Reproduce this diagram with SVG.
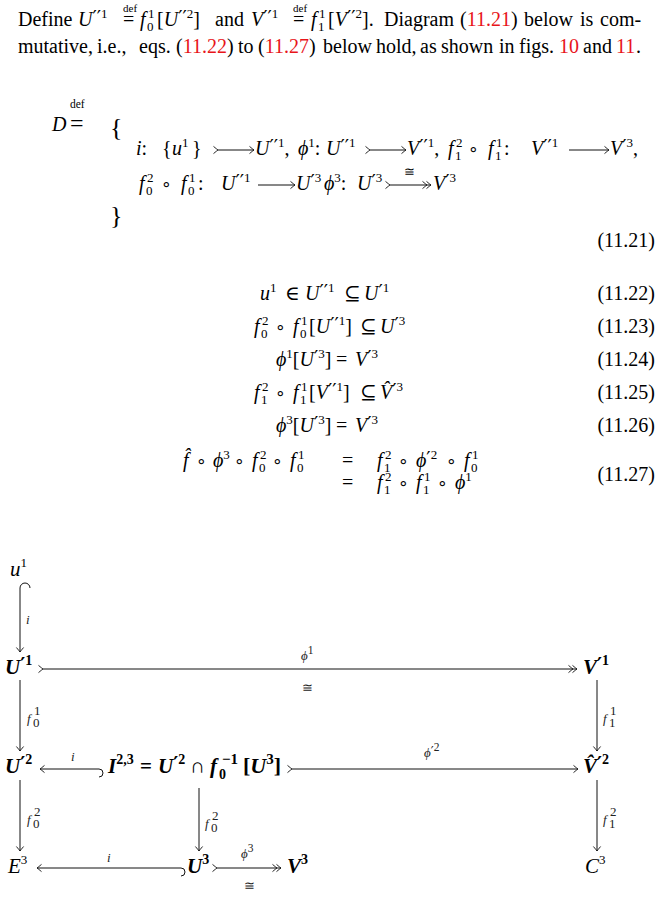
<svg xmlns="http://www.w3.org/2000/svg" width="662" height="897" viewBox="0 0 662 897">
<style>
text{font-family:"Liberation Serif","DejaVu Serif",serif;font-size:20px;fill:#000}
.m{font-style:italic}
.b{font-weight:bold;font-style:italic;font-size:21px}
.s{font-size:13px;font-style:normal}
.ss{font-size:11.5px;font-style:normal}
.d{font-size:11px}
.p{font-family:"DejaVu Sans",sans-serif;font-style:normal;font-size:19px}
.pb{font-family:"DejaVu Sans",sans-serif;font-style:normal;font-weight:bold;font-size:19px}
.o{font-family:"DejaVu Sans",sans-serif;font-size:17px}
.r{fill:#e8141a}
.l{font-size:13px;fill:#222}
.ln{stroke:#111;stroke-width:1;fill:none}
</style>
<defs>
<marker id="to" markerUnits="userSpaceOnUse" orient="auto" overflow="visible" markerWidth="1" markerHeight="1">
<path d="M-4.5,-3.6 Q-1.2,-0.8 0,0 Q-1.2,0.8 -4.5,3.6" fill="none" stroke="#111" stroke-width="0.9"/>
</marker>
<marker id="two" markerUnits="userSpaceOnUse" orient="auto" overflow="visible" markerWidth="1" markerHeight="1">
<path d="M-4.5,-3.6 Q-1.2,-0.8 0,0 Q-1.2,0.8 -4.5,3.6 M-8.5,-3.6 Q-5.2,-0.8 -4,0 Q-5.2,0.8 -8.5,3.6" fill="none" stroke="#111" stroke-width="0.9"/>
</marker>
<marker id="tail" markerUnits="userSpaceOnUse" orient="auto" overflow="visible" markerWidth="1" markerHeight="1">
<path d="M-4.5,-3.6 Q-1.2,-0.8 0,0 Q-1.2,0.8 -4.5,3.6" fill="none" stroke="#111" stroke-width="0.9"/>
</marker>
</defs>

<g id="paragraph">
<text x="18" y="26">Define</text>
<text class="m" x="78" y="26">U<tspan class="p" dy="-2">′′</tspan><tspan class="s" dy="-6">1</tspan></text>
<text class="d" x="123" y="12">def</text>
<text x="123" y="26">=</text>
<text class="m" x="140" y="26">f</text><text class="s" x="148" y="18">1</text><text class="s" x="147" y="31">0</text>
<text x="157" y="26">[<tspan class="m">U</tspan><tspan class="p" dy="-2">′′</tspan><tspan class="s" dy="-6">2</tspan><tspan dy="8">]</tspan></text>
<text x="215" y="26">and</text>
<text class="m" x="251" y="26">V<tspan class="p" dy="-2">′′</tspan><tspan class="s" dy="-6">1</tspan></text>
<text class="d" x="293" y="12">def</text>
<text x="293" y="26">=</text>
<text class="m" x="311" y="26">f</text><text class="s" x="319" y="18">1</text><text class="s" x="318" y="31">1</text>
<text x="328" y="26">[<tspan class="m">V</tspan><tspan class="p" dy="-2">′′</tspan><tspan class="s" dy="-6">2</tspan><tspan dy="8">].</tspan></text>
<text x="384" y="26">Diagram</text>
<text x="460" y="26">(<tspan class="r">11.21</tspan>)</text>
<text x="524" y="26">below</text>
<text x="580" y="26">is</text>
<text x="600" y="26">com-</text>

<text x="18" y="53">mutative,</text>
<text x="97" y="53">i.e.,</text>
<text x="139" y="53">eqs.</text>
<text x="176" y="53">(<tspan class="r">11.22</tspan>)</text>
<text x="238" y="53">to</text>
<text x="258" y="53">(<tspan class="r">11.27</tspan>)</text>
<text x="323" y="53">below</text>
<text x="376" y="53">hold,</text>
<text x="420" y="53">as</text>
<text x="441" y="53">shown</text>
<text x="499" y="53">in</text>
<text x="519" y="53">figs.</text>
<text class="r" x="559" y="53">10</text>
<text x="583" y="53">and</text>
<text class="r" x="616" y="53">11</text>
<text x="636" y="53">.</text>
</g>

<g id="definition">
<text class="m" x="52" y="131">D</text>
<text class="ss" x="70" y="108">def</text>
<text x="70" y="131" style="font-size:24px">=</text>
<text x="110" y="136" style="font-size:26px">{</text>
<text x="110" y="224" style="font-size:26px">}</text>

<text x="136" y="155"><tspan class="m">i</tspan>:</text>
<text x="162" y="155">{</text><text class="m" x="172" y="155">u<tspan class="s" dy="-8">1</tspan></text><text x="192" y="155">}</text>
<text class="m" x="255" y="155">U<tspan class="p" dy="-2">′′</tspan><tspan class="s" dy="-6">1</tspan><tspan dy="8" style="font-style:normal">,</tspan></text>
<text class="m" x="298" y="155">ϕ<tspan class="s" dy="-8">1</tspan><tspan dy="8" style="font-style:normal">:</tspan></text>
<text class="m" x="326" y="155">U<tspan class="p" dy="-2">′′</tspan><tspan class="s" dy="-6">1</tspan></text>
<text class="m" x="407" y="155">V<tspan class="p" dy="-2">′′</tspan><tspan class="s" dy="-6">1</tspan><tspan dy="8" style="font-style:normal">,</tspan></text>
<text class="m" x="448" y="155">f</text><text class="s" x="456" y="147">2</text><text class="s" x="455" y="160">1</text>
<text class="o" x="468" y="155">∘</text>
<text class="m" x="488" y="155">f</text><text class="s" x="496" y="147">1</text><text class="s" x="495" y="160">1</text>
<text x="504" y="155">:</text>
<text class="m" x="531" y="155">V<tspan class="p" dy="-2">′′</tspan><tspan class="s" dy="-6">1</tspan></text>
<text class="m" x="610" y="155">V<tspan class="p" dy="-2">′</tspan><tspan class="s" dy="-6">3</tspan><tspan dy="8" style="font-style:normal">,</tspan></text>

<text class="m" x="139" y="190">f</text><text class="s" x="147" y="182">2</text><text class="s" x="146" y="195">0</text>
<text class="o" x="161" y="190">∘</text>
<text class="m" x="181" y="190">f</text><text class="s" x="189" y="182">1</text><text class="s" x="188" y="195">0</text>
<text x="198" y="190">:</text>
<text class="m" x="221" y="190">U<tspan class="p" dy="-2">′′</tspan><tspan class="s" dy="-6">1</tspan></text>
<text class="m" x="296" y="190">U<tspan class="p" dy="-2">′</tspan><tspan class="s" dy="-6">3</tspan></text>
<text class="m" x="324" y="190">ϕ<tspan class="s" dy="-8">3</tspan><tspan dy="8" style="font-style:normal">:</tspan></text>
<text class="m" x="357" y="190">U<tspan class="p" dy="-2">′</tspan><tspan class="s" dy="-6">3</tspan></text>
<text class="s" x="404" y="176">≅</text>
<text class="m" x="433" y="190">V<tspan class="p" dy="-2">′</tspan><tspan class="s" dy="-6">3</tspan></text>

<text x="655" y="247" text-anchor="end">(11.21)</text>

<path class="ln" d="M218,150 H254" marker-start="url(#tail)" marker-end="url(#to)"/>
<path class="ln" d="M370,150 H406" marker-start="url(#tail)" marker-end="url(#to)"/>
<path class="ln" d="M569,150 H609" marker-end="url(#to)"/>
<path class="ln" d="M258,185 H295" marker-end="url(#to)"/>
<path class="ln" d="M390,185 H431" marker-start="url(#tail)" marker-end="url(#two)"/>
</g>

<g id="equations">
<text class="m" x="260" y="300">u<tspan class="s" dy="-8">1</tspan></text>
<text x="285" y="300">∈</text>
<text class="m" x="305" y="300">U<tspan class="p" dy="-2">′′</tspan><tspan class="s" dy="-6">1</tspan></text>
<text x="344" y="300">⊆</text>
<text class="m" x="364" y="300">U<tspan class="p" dy="-2">′</tspan><tspan class="s" dy="-6">1</tspan></text>
<text x="655" y="300" text-anchor="end">(11.22)</text>

<text class="m" x="254" y="333">f</text><text class="s" x="262" y="325">2</text><text class="s" x="261" y="338">0</text>
<text class="o" x="275" y="333">∘</text>
<text class="m" x="293" y="333">f</text><text class="s" x="301" y="325">1</text><text class="s" x="300" y="338">0</text>
<text x="309" y="333">[<tspan class="m">U</tspan><tspan class="p" dy="-2">′′</tspan><tspan class="s" dy="-6">1</tspan><tspan dy="8">]</tspan></text>
<text x="360" y="333">⊆</text>
<text class="m" x="380" y="333">U<tspan class="p" dy="-2">′</tspan><tspan class="s" dy="-6">3</tspan></text>
<text x="655" y="333" text-anchor="end">(11.23)</text>

<text class="m" x="276" y="366">ϕ<tspan class="s" dy="-8">1</tspan><tspan dy="8" style="font-style:normal">[</tspan>U<tspan class="p" dy="-2">′</tspan><tspan class="s" dy="-6">3</tspan><tspan dy="8" style="font-style:normal">]</tspan></text>
<text x="336" y="366">=</text>
<text class="m" x="355" y="366">V<tspan class="p" dy="-2">′</tspan><tspan class="s" dy="-6">3</tspan></text>
<text x="655" y="366" text-anchor="end">(11.24)</text>

<text class="m" x="254" y="399">f</text><text class="s" x="262" y="391">2</text><text class="s" x="261" y="404">1</text>
<text class="o" x="275" y="399">∘</text>
<text class="m" x="293" y="399">f</text><text class="s" x="301" y="391">1</text><text class="s" x="300" y="404">1</text>
<text x="309" y="399">[<tspan class="m">V</tspan><tspan class="p" dy="-2">′′</tspan><tspan class="s" dy="-6">1</tspan><tspan dy="8">]</tspan></text>
<text x="360" y="399">⊆</text>
<text class="m" x="380" y="399">V̂<tspan class="p" dy="-2">′</tspan><tspan class="s" dy="-6">3</tspan></text>
<text x="655" y="399" text-anchor="end">(11.25)</text>

<text class="m" x="276" y="432">ϕ<tspan class="s" dy="-8">3</tspan><tspan dy="8" style="font-style:normal">[</tspan>U<tspan class="p" dy="-2">′</tspan><tspan class="s" dy="-6">3</tspan><tspan dy="8" style="font-style:normal">]</tspan></text>
<text x="336" y="432">=</text>
<text class="m" x="355" y="432">V<tspan class="p" dy="-2">′</tspan><tspan class="s" dy="-6">3</tspan></text>
<text x="655" y="432" text-anchor="end">(11.26)</text>

<text class="m" x="183" y="467">f̂</text>
<text class="o" x="196" y="467">∘</text>
<text class="m" x="213" y="467">ϕ<tspan class="s" dy="-8">3</tspan></text>
<text class="o" x="234" y="467">∘</text>
<text class="m" x="252" y="467">f</text><text class="s" x="260" y="459">2</text><text class="s" x="259" y="472">0</text>
<text class="o" x="272" y="467">∘</text>
<text class="m" x="290" y="467">f</text><text class="s" x="298" y="459">1</text><text class="s" x="297" y="472">0</text>
<text x="342" y="467">=</text>
<text class="m" x="377" y="467">f</text><text class="s" x="385" y="459">2</text><text class="s" x="384" y="472">1</text>
<text class="o" x="398" y="467">∘</text>
<text class="m" x="416" y="467">ϕ<tspan class="p" dy="-2">′</tspan><tspan class="s" dy="-6">2</tspan></text>
<text class="o" x="446" y="467">∘</text>
<text class="m" x="464" y="467">f</text><text class="s" x="472" y="459">1</text><text class="s" x="471" y="472">0</text>

<text x="342" y="489">=</text>
<text class="m" x="377" y="489">f</text><text class="s" x="385" y="481">2</text><text class="s" x="384" y="494">1</text>
<text class="o" x="398" y="489">∘</text>
<text class="m" x="416" y="489">f</text><text class="s" x="424" y="481">1</text><text class="s" x="423" y="494">1</text>
<text class="o" x="437" y="489">∘</text>
<text class="m" x="455" y="489">ϕ<tspan class="s" dy="-8">1</tspan></text>
<text x="655" y="481" text-anchor="end">(11.27)</text>
</g>

<g id="connectors">
<path class="ln" d="M30,588 A5,5 0 0 0 20,588 V652" marker-end="url(#to)"/>
<path class="ln" d="M43,669 H577" marker-start="url(#tail)" marker-end="url(#two)"/>
<path class="ln" d="M20,680 V751" marker-end="url(#to)"/>
<path class="ln" d="M597,680 V751" marker-end="url(#to)"/>
<path class="ln" d="M99,777 A4,4 0 0 0 99,769 H40" marker-end="url(#to)"/>
<path class="ln" d="M292,769 H578" marker-start="url(#tail)" marker-end="url(#to)"/>
<path class="ln" d="M20,780 V851" marker-end="url(#to)"/>
<path class="ln" d="M199,788 V851" marker-end="url(#to)"/>
<path class="ln" d="M597,780 V851" marker-end="url(#to)"/>
<path class="ln" d="M181,876 A4,4 0 0 0 181,868 H37" marker-end="url(#to)"/>
<path class="ln" d="M217,868 H281" marker-start="url(#tail)" marker-end="url(#two)"/>
<text class="l m" x="26" y="624">i</text>
<text class="l m" x="301" y="660">ϕ<tspan class="ss" dy="-6">1</tspan></text>
<text class="l" x="302" y="692">≅</text>
<text class="l m" x="27" y="723">f</text><text class="l ss" x="34" y="715">1</text><text class="l ss" x="33" y="727">0</text>
<text class="l m" x="603" y="723">f</text><text class="l ss" x="610" y="715">1</text><text class="l ss" x="609" y="727">1</text>
<text class="l m" x="71" y="761">i</text>
<text class="l m" x="424" y="757">ϕ<tspan class="p" dy="-2" style="font-size:13px">′</tspan><tspan class="ss" dy="-4">2</tspan></text>
<text class="l m" x="27" y="824">f</text><text class="l ss" x="34" y="816">2</text><text class="l ss" x="33" y="828">0</text>
<text class="l m" x="205" y="828">f</text><text class="l ss" x="212" y="820">2</text><text class="l ss" x="211" y="832">0</text>
<text class="l m" x="603" y="824">f</text><text class="l ss" x="610" y="816">2</text><text class="l ss" x="609" y="828">1</text>
<text class="l m" x="107" y="862">i</text>
<text class="l m" x="241" y="858">ϕ<tspan class="ss" dy="-6">3</tspan></text>
<text class="l" x="244" y="890">≅</text>
</g>

<g id="n-u1"><text class="m" x="10" y="576" style="font-size:21px">u<tspan class="s" dy="-9">1</tspan></text></g>
<g id="n-U1"><text class="b" x="5" y="674">U<tspan class="pb" dy="-3">′</tspan><tspan dy="-6" style="font-size:14px;font-style:normal">1</tspan></text></g>
<g id="n-V1"><text class="b" x="583" y="674">V<tspan class="pb" dy="-3">′</tspan><tspan dy="-6" style="font-size:14px;font-style:normal">1</tspan></text></g>
<g id="n-U2"><text class="b" x="5" y="773">U<tspan class="pb" dy="-3">′</tspan><tspan dy="-6" style="font-size:14px;font-style:normal">2</tspan></text></g>
<g id="n-I23">
<text class="b" x="108" y="773">I<tspan dy="-9" style="font-size:14px;font-style:normal">2,3</tspan></text>
<text class="b" x="140" y="773" style="font-style:normal">=</text>
<text class="b" x="158" y="773">U<tspan class="pb" dy="-3">′</tspan><tspan dy="-6" style="font-size:14px;font-style:normal">2</tspan></text>
<text class="b" x="190" y="773" style="font-style:normal;font-weight:normal">∩</text>
<text class="b" x="210" y="773">f</text>
<text class="b" x="222" y="764" style="font-size:15px;font-style:normal">−1</text>
<text class="b" x="219" y="779" style="font-size:14px;font-style:normal">0</text>
<text class="b" x="243" y="773" style="font-size:22px"><tspan style="font-style:normal">[</tspan>U<tspan dy="-9" style="font-size:15px;font-style:normal">3</tspan><tspan dy="9" style="font-style:normal">]</tspan></text>
</g>
<g id="n-V2"><text class="b" x="583" y="773">V̂<tspan class="pb" dy="-3">′</tspan><tspan dy="-6" style="font-size:14px;font-style:normal">2</tspan></text></g>
<g id="n-E3"><text class="m" x="8" y="873" style="font-size:21px">E<tspan class="s" dy="-9">3</tspan></text></g>
<g id="n-U3"><text class="b" x="187" y="873">U<tspan dy="-9" style="font-size:14px;font-style:normal">3</tspan></text></g>
<g id="n-V3"><text class="b" x="287" y="873">V<tspan dy="-9" style="font-size:14px;font-style:normal">3</tspan></text></g>
<g id="n-C3"><text class="m" x="585" y="873" style="font-size:21px">C<tspan class="s" dy="-9">3</tspan></text></g>
</svg>
